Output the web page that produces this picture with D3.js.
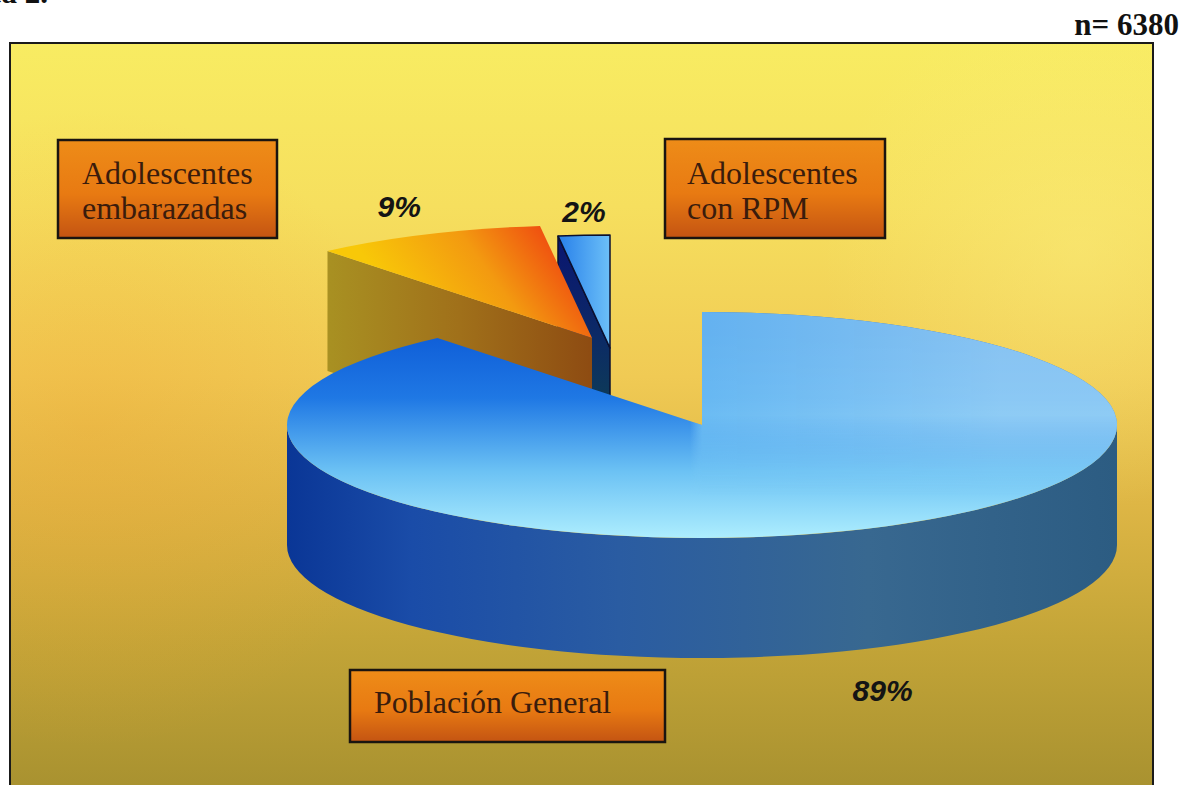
<!DOCTYPE html>
<html>
<head>
<meta charset="utf-8">
<script src="https://cdn.jsdelivr.net/npm/d3@7/dist/d3.min.js"></script>
<style>
  html, body { margin: 0; padding: 0; background: #ffffff; }
  svg { display: block; }
</style>
</head>
<body>
<svg id="chart" width="1186" height="785"></svg>
<script>
// ---------------- data ----------------
const categories = ["Población General", "Adolescentes embarazadas", "Adolescentes con RPM"];
const categoryLines = [["Población General"], ["Adolescentes", "embarazadas"], ["Adolescentes", "con RPM"]];
const percentages = [89, 9, 2];
const percentLabels = ["89%", "9%", "2%"];
const sampleLabel = "n= 6380";
const titleText = "Gráfica 2.";

// ---------------- layout ----------------
const W = 1186, H = 785;
const frame = { x: 10, y: 43, w: 1143, h: 780 };
const pieC = { cx: 702, cy: 425, rx: 415, ry: 113, depth: 120 };
const explode = [[0, 0], [-110, -87], [-92, -77]];
const labelOffset = [[40, 170], [-28, -17], [0, -13]];
const boxes = [
  { x: 350, y: 670, w: 315, h: 72, tx: 24, base: [43] },
  { x: 58, y: 140, w: 219, h: 98, tx: 24, base: [44, 79] },
  { x: 665, y: 139, w: 220, h: 99, tx: 22, base: [45, 80] }
];

const svg = d3.select("#chart");
const defs = svg.append("defs");

function linGrad(id, x1, y1, x2, y2, stops) {
  const g = defs.append("linearGradient").attr("id", id)
    .attr("gradientUnits", "userSpaceOnUse")
    .attr("x1", x1).attr("y1", y1).attr("x2", x2).attr("y2", y2);
  stops.forEach(s => g.append("stop").attr("offset", s[0]).attr("stop-color", s[1]).attr("stop-opacity", s[2] == null ? 1 : s[2]));
  return "url(#" + id + ")";
}

// background
const bgFill = linGrad("bg", 0, frame.y, 0, H, [
  [0, "#f8ec62"], [0.22, "#f6df5e"], [0.45, "#f0ca54"], [0.62, "#deb645"],
  [0.8, "#c4a538"], [1, "#a99230"]
]);
const rg = defs.append("radialGradient").attr("id", "bgTint")
  .attr("gradientUnits", "userSpaceOnUse").attr("cx", 90).attr("cy", 430).attr("r", 320);
rg.append("stop").attr("offset", 0).attr("stop-color", "#f0a030").attr("stop-opacity", 0.3);
rg.append("stop").attr("offset", 1).attr("stop-color", "#f0a030").attr("stop-opacity", 0);
const rg2 = defs.append("radialGradient").attr("id", "bgLight")
  .attr("gradientUnits", "userSpaceOnUse").attr("cx", 1080).attr("cy", 250).attr("r", 260);
rg2.append("stop").attr("offset", 0).attr("stop-color", "#fbef80").attr("stop-opacity", 0.45);
rg2.append("stop").attr("offset", 1).attr("stop-color", "#fbef80").attr("stop-opacity", 0);

svg.append("rect").attr("x", frame.x).attr("y", frame.y).attr("width", frame.w).attr("height", frame.h)
  .attr("fill", bgFill);
svg.append("rect").attr("x", frame.x).attr("y", frame.y).attr("width", frame.w).attr("height", frame.h)
  .attr("fill", "url(#bgTint)");
svg.append("rect").attr("x", frame.x).attr("y", frame.y).attr("width", frame.w).attr("height", frame.h)
  .attr("fill", "url(#bgLight)");
svg.append("rect").attr("x", frame.x).attr("y", frame.y).attr("width", frame.w).attr("height", frame.h)
  .attr("fill", "none").attr("stroke", "#1a1a1a").attr("stroke-width", 2);

// ---------------- pie ----------------
const pie = d3.pie().sort(null).value(d => d).startAngle(0).endAngle(2 * Math.PI);
const arcs = pie(percentages);

const rx = pieC.rx, ry = pieC.ry, dp = pieC.depth;
function P(c, a) { return [c[0] + rx * Math.sin(a), c[1] - ry * Math.cos(a)]; }

// slice styles
const topFills = [
  linGrad("top0", 0, 335, 0, 545, [[0, "#0f5ed8"], [0.3, "#1f78e4"], [0.65, "#6cc2f4"], [1, "#b4f2ff"]]),
  linGrad("top1", 410, 320, 545, 222, [[0, "#f8c808"], [0.55, "#f39a10"], [1, "#ef4a10"]]),
  linGrad("top2", 560, 0, 610, 0, [[0, "#2a82ea"], [1, "#6cc0f8"]])
];
const sideFill0 = linGrad("side0", pieC.cx - rx, 0, pieC.cx + rx, 0, [
  [0, "#0a3696"], [0.15, "#1a4ca8"], [0.4, "#2a5ca2"], [0.7, "#386890"], [1, "#2c5c82"]
]);
const radialFills = [
  "#103a80",
  linGrad("rad1", 330, 0, 590, 0, [[0, "#a89022"], [0.5, "#a0701a"], [1, "#8e4c12"]]),
  linGrad("rad2", 0, 240, 0, 400, [[0, "#0a1670"], [0.6, "#0c2a66"], [1, "#0d3a58"]])
];
const overlay0 = linGrad("ov0", 690, 0, 1000, 0, [[0, "#8ed2f8", 0], [0.04, "#7ccaf6", 0.78], [1, "#a6dcf8", 0.8]]);
// vertical mask for overlay so it fades out toward the front
const maskGrad = linGrad("mg", 0, pieC.cy - 10, 0, pieC.cy + 70, [[0, "#fff"], [1, "#000"]]);
defs.append("mask").attr("id", "ovMask").attr("maskUnits", "userSpaceOnUse")
  .attr("x", 0).attr("y", 0).attr("width", W).attr("height", H)
  .append("rect").attr("x", 0).attr("y", 0).attr("width", W).attr("height", H).attr("fill", maskGrad);
const strokes = ["none", "none", "#0b1030"];

const gPie = svg.append("g");
const order = [2, 1, 0];
order.forEach(i => {
  const a = arcs[i];
  const c = [pieC.cx + explode[i][0], pieC.cy + explode[i][1]];
  const g = gPie.append("g");
  const sw = strokes[i] === "none" ? 0 : 1.5;
  // radial faces
  if (Math.sin(a.startAngle) < -1e-6) {
    const p = P(c, a.startAngle);
    g.append("path")
      .attr("d", `M${c[0]},${c[1]}L${p[0]},${p[1]}L${p[0]},${p[1] + dp}L${c[0]},${c[1] + dp}Z`)
      .attr("fill", radialFills[i]).attr("stroke", strokes[i]).attr("stroke-width", sw);
  }
  if (Math.sin(a.endAngle) > 1e-6) {
    const p = P(c, a.endAngle);
    g.append("path")
      .attr("d", `M${c[0]},${c[1]}L${p[0]},${p[1]}L${p[0]},${p[1] + dp}L${c[0]},${c[1] + dp}Z`)
      .attr("fill", radialFills[i]).attr("stroke", strokes[i]).attr("stroke-width", sw);
  }
  // outer side (front half)
  const s = Math.max(a.startAngle, Math.PI / 2), e = Math.min(a.endAngle, 3 * Math.PI / 2);
  if (e > s) {
    const ps = P(c, s), pe = P(c, e);
    g.append("path")
      .attr("d", `M${ps[0]},${ps[1]}A${rx},${ry} 0 0 1 ${pe[0]},${pe[1]}L${pe[0]},${pe[1] + dp}A${rx},${ry} 0 0 0 ${ps[0]},${ps[1] + dp}Z`)
      .attr("fill", i === 0 ? sideFill0 : radialFills[i]).attr("stroke", strokes[i]).attr("stroke-width", sw);
  }
  // top face
  const p0 = P(c, a.startAngle), p1 = P(c, a.endAngle);
  const large = (a.endAngle - a.startAngle) > Math.PI ? 1 : 0;
  const dTop = `M${c[0]},${c[1]}L${p0[0]},${p0[1]}A${rx},${ry} 0 ${large} 1 ${p1[0]},${p1[1]}Z`;
  g.append("path").attr("d", dTop).attr("fill", topFills[i])
    .attr("stroke", strokes[i]).attr("stroke-width", sw).attr("stroke-linejoin", "round");
  if (i === 0) g.append("path").attr("d", dTop).attr("fill", overlay0).attr("mask", "url(#ovMask)");
});

// percent labels
arcs.forEach((a, i) => {
  const c = [pieC.cx + explode[i][0], pieC.cy + explode[i][1]];
  const mid = (a.startAngle + a.endAngle) / 2;
  const p = P(c, mid);
  svg.append("text")
    .attr("x", p[0] + labelOffset[i][0]).attr("y", p[1] + labelOffset[i][1])
    .attr("text-anchor", "middle")
    .attr("font-family", "'Liberation Sans', Arial, sans-serif")
    .attr("font-weight", "bold").attr("font-style", "italic")
    .attr("font-size", 30).attr("fill", "#141414")
    .text(percentLabels[i]);
});

// category boxes
const boxFill = linGrad("boxg", 0, 0, 0, 1, [[0, "#ee8c18"], [0.55, "#e87a12"], [1, "#c45412"]]);
defs.select("#boxg").attr("gradientUnits", "objectBoundingBox");
categoryLines.forEach((lines, i) => {
  const b = boxes[i];
  svg.append("rect").attr("x", b.x).attr("y", b.y).attr("width", b.w).attr("height", b.h)
    .attr("fill", boxFill).attr("stroke", "#1a1410").attr("stroke-width", 2.5);
  lines.forEach((ln, j) => {
    svg.append("text").attr("x", b.x + b.tx).attr("y", b.y + b.base[j])
      .attr("font-family", "'Liberation Serif', 'Times New Roman', serif")
      .attr("font-size", 32).attr("fill", "#3a1c0c")
      .text(ln);
  });
});

// n label & title
svg.append("text").attr("x", 1179).attr("y", 35).attr("text-anchor", "end")
  .attr("font-family", "'Liberation Serif', 'Times New Roman', serif")
  .attr("font-weight", "bold").attr("font-size", 31).attr("fill", "#111")
  .text(sampleLabel);
svg.append("text").attr("x", 48).attr("y", 3).attr("text-anchor", "end")
  .attr("font-family", "'Liberation Serif', 'Times New Roman', serif")
  .attr("font-weight", "bold").attr("font-size", 31).attr("fill", "#111")
  .text(titleText);
</script>
</body>
</html>
